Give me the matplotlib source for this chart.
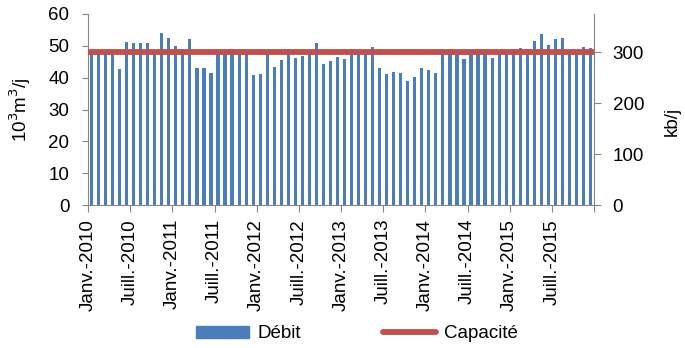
import numpy as np
import matplotlib
matplotlib.use('Agg')
import matplotlib.pyplot as plt
from matplotlib.patches import Patch
from matplotlib.lines import Line2D

plt.rcParams['font.family'] = ['Liberation Sans', 'DejaVu Sans']

# monthly throughput, 10^3 m3/j, janv. 2010 -> dec. 2015
debit_2010 = [47.8, 47.8, 47.8, 47.8, 42.8, 51.1, 51.0, 51.0, 51.0, 47.8, 53.9, 52.6]
debit_2011 = [50.0, 47.8, 52.1, 43.1, 43.0, 41.5, 47.8, 47.8, 49.1, 47.8, 47.8, 40.9]
debit_2012 = [41.3, 47.8, 43.3, 45.7, 49.0, 46.2, 46.7, 47.5, 50.9, 44.4, 45.1, 46.6]
debit_2013 = [45.9, 48.9, 47.8, 47.8, 49.7, 43.0, 41.2, 41.7, 41.4, 39.0, 40.2, 43.0]
debit_2014 = [42.4, 41.5, 47.8, 47.8, 47.8, 45.9, 47.8, 47.8, 47.8, 46.1, 47.8, 47.8]
debit_2015 = [47.8, 49.3, 48.9, 51.6, 53.7, 50.4, 52.2, 52.5, 47.8, 47.8, 49.7, 49.4]
debit = debit_2010 + debit_2011 + debit_2012 + debit_2013 + debit_2014 + debit_2015

capacite_kb = 300          # kb/j
kb_per_km3 = 6.25          # right axis scale factor
capacite = capacite_kb / kb_per_km3

tick_labels = ['Janv.-2010', 'Juill.-2010', 'Janv.-2011', 'Juill.-2011',
               'Janv.-2012', 'Juill.-2012', 'Janv.-2013', 'Juill.-2013',
               'Janv.-2014', 'Juill.-2014', 'Janv.-2015', 'Juill.-2015', '']

blue = '#4a7ebb'
red = '#c0504d'
grey = '#868686'
fs = 13.5

fig = plt.figure(figsize=(6.85, 3.48), dpi=100)
ax = fig.add_axes([88 / 685, 1 - 205 / 348, 506 / 685, 191 / 348])

x = np.arange(len(debit))
ax.bar(x, debit, width=0.45, color=blue, zorder=2)
ax.plot([-0.5, len(debit) - 0.5], [capacite, capacite], color=red, lw=4.2,
        solid_capstyle='butt', zorder=3)

ax.set_xlim(-0.5, len(debit) - 0.5)
ax.set_ylim(0, 60)
ax.set_yticks(range(0, 61, 10))
ax.set_xticks(np.arange(-0.5, len(debit), 6))
ax.set_xticklabels(tick_labels, rotation=90, fontsize=fs)
ax.tick_params(axis='x', length=5, color=grey, pad=5)
ax.tick_params(axis='y', length=4, color=grey, pad=9.5, labelsize=fs)
for s in ['top', 'right']:
    ax.spines[s].set_visible(False)
for s in ['left', 'bottom']:
    ax.spines[s].set_color(grey)
ax.set_ylabel('10$^3$m$^3$/j', fontsize=fs, va='center')
ax.yaxis.set_label_coords(-0.134, 0.5)

ax2 = ax.twinx()
ax2.set_ylim(0, 60 * kb_per_km3)
ax2.set_yticks(range(0, 301, 100))
ax2.tick_params(axis='y', length=5, color=grey, pad=8.5, labelsize=fs)
for s in ['top', 'left', 'bottom']:
    ax2.spines[s].set_visible(False)
ax2.spines['right'].set_color(grey)
ax2.set_ylabel('kb/j', fontsize=fs, va='center')
ax2.yaxis.set_label_coords(1.154, 0.435)

handles = [Patch(color=blue, label='Débit'),
           Line2D([], [], color=red, lw=4.2, solid_capstyle='round', label='Capacité')]
fig.legend(handles=handles, loc='center', bbox_to_anchor=(357 / 685, 1 - 334 / 348),
           ncol=2, frameon=False, fontsize=fs, handlelength=2.8, handleheight=0.6,
           handletextpad=0.45, columnspacing=4.4, borderpad=0)

fig.savefig('out.png', dpi=100)
